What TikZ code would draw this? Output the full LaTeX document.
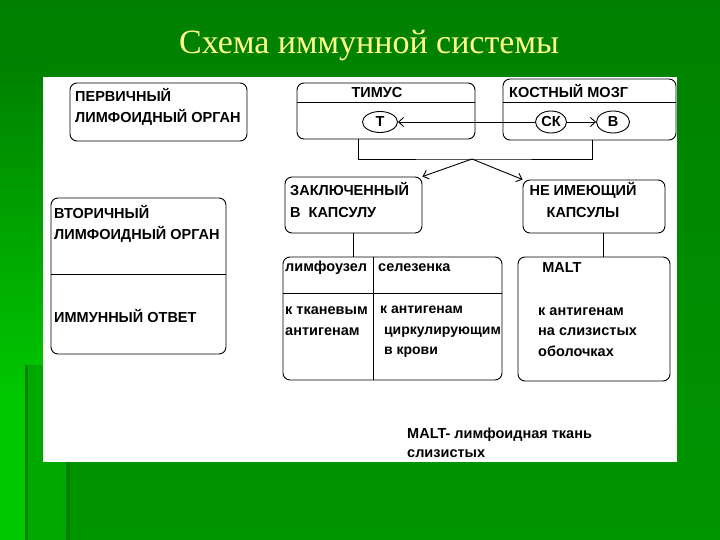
\documentclass[tikz,border=0pt]{standalone}
\usepackage{fontspec}
\setmainfont{Liberation Sans}
\newfontfamily\titlefont{Liberation Serif}
\usetikzlibrary{shapes.geometric,arrows.meta}
\definecolor{slidegreen}{RGB}{0,128,0}
\definecolor{slidegreenlow}{RGB}{0,150,0}
\definecolor{slidelight}{RGB}{0,200,0}
\definecolor{slidemid}{RGB}{0,168,0}
\definecolor{slidedark}{RGB}{0,130,0}
\definecolor{titleyellow}{RGB}{255,255,140}

\tikzset{
  box/.style={draw,rounded corners=7pt,line width=0.9pt,inner sep=0pt},
  cell/.style={ellipse,draw,line width=0.9pt,inner sep=0pt,font=\bfseries\fontsize{14.5}{14.5}\selectfont},
  txt/.style={anchor=west,inner sep=0pt,align=left,font=\bfseries\fontsize{14.5}{20.5}\selectfont},
  ctxt/.style={inner sep=0pt,align=center,font=\bfseries\fontsize{14.5}{22}\selectfont},
  arr/.style={line width=0.9pt,-{Straight Barb[length=5pt,width=9pt]}},
  link/.style={line width=0.9pt},
}

\begin{document}
\begin{tikzpicture}[x=1pt,y=-1pt]
          \shade[top color=slidegreen,bottom color=slidegreenlow] (0,0) rectangle (720,540);
          \shade[top color=slidegreen,bottom color=slidelight] (0,60) rectangle (43,400);
          \fill[slidelight] (0,399) rectangle (43,540);
          \fill[slidemid] (28,365) rectangle (68,540);
          \fill[slidedark] (25,365) rectangle (28,540);
          \fill[slidedark] (66,462) rectangle (70,540);
          \fill[white] (43,77) rectangle (677,462);

          \node[text=titleyellow,font=\titlefont\fontsize{34}{34}\selectfont] (title) at (369,46) {Схема иммунной системы};

          \node[box,minimum width=177pt,minimum height=58pt] (prim) at (158.5,112) {};
          \node[txt] (primtext) at (75,107) {ПЕРВИЧНЫЙ\\ЛИМФОИДНЫЙ ОРГАН};

          \node[box,minimum width=178pt,minimum height=56pt] (tim) at (386,111) {};
          \node[ctxt] (timtext) at (377,93) {ТИМУС};
          \node[box,minimum width=173pt,minimum height=61pt] (bm) at (589.5,109.5) {};
          \node[txt] (bmtext) at (509,91) {КОСТНЫЙ МОЗГ};

          \node[cell,minimum width=35pt,minimum height=21pt] (t) at (380,122) {Т};
          \node[cell,minimum width=31pt,minimum height=22pt] (ck) at (551,122) {СК};
          \node[cell,minimum width=33pt,minimum height=22pt] (b) at (613,122) {В};

          \node[box,minimum width=175pt,minimum height=156pt] (vsec) at (138.5,276) {};
          \node[txt] (vsectext) at (54,224) {ВТОРИЧНЫЙ\\ЛИМФОИДНЫЙ ОРГАН};
          \node[txt] (answer) at (54,316) {ИММУННЫЙ ОТВЕТ};

          \node[box,minimum width=137pt,minimum height=56pt] (caps) at (353.5,205) {};
          \node[txt,font=\bfseries\fontsize{14.5}{22}\selectfont] (capstext) at (290,200) {ЗАКЛЮЧЕННЫЙ\\В\ \ КАПСУЛУ};
          \node[box,minimum width=142pt,minimum height=53pt] (nocaps) at (594,206.5) {};
          \node[ctxt] (nocapstext) at (583,200) {НЕ ИМЕЮЩИЙ\\КАПСУЛЫ};

          \node[box,minimum width=219pt,minimum height=123pt] (enc) at (392.5,318.5) {};
          \node[txt] (node) at (285,268) {лимфоузел};
          \node[txt] (spleen) at (378,268) {селезенка};
          \node[txt] (tissue) at (285,321) {к тканевым\\антигенам};
          \node[txt,font=\bfseries\fontsize{14}{20.5}\selectfont] (blood) at (380,332) {к антигенам\\\ циркулирующим\\\ в крови};

          \node[box,minimum width=152pt,minimum height=124pt] (malt) at (594,319) {};
          \node[ctxt] (malttext) at (562,268) {MALT};
          \node[txt] (mucosa) at (538,332) {к антигенам\\на слизистых\\оболочках};

          \node[txt,font=\bfseries\fontsize{14.5}{19}\selectfont] (note) at (407,443) {MALT- лимфоидная ткань\\слизистых};

          \draw[link] (tim.west |- 0,102) -- (tim.east |- 0,102);
          \draw[link] (bm.west |- 0,102) -- (bm.east |- 0,102);
          \draw[link] (vsec.west |- 0,274) -- (vsec.east |- 0,274);
          \draw[link] (enc.west |- 0,293) -- (enc.east |- 0,293);
          \draw[link] (enc.north -| 373,0) -- (enc.south -| 373,0);

          \draw[arr] (ck) -- (t);
          \draw[arr] (ck) -- (b);

          \coordinate (fork) at (472,159);
          \draw[link] (tim.south -| 358,0) |- (fork) -| (bm.south -| 592,0);
          \draw[arr] (fork) -- (caps.north east);
          \draw[arr] (fork) -- (nocaps.north west);

          \draw[link] (caps.south) -- (caps.south |- enc.north);
          \draw[link] ([xshift=9pt]nocaps.south) -- ([xshift=9pt]nocaps.south |- malt.north);
        \end{tikzpicture}
\end{document}
